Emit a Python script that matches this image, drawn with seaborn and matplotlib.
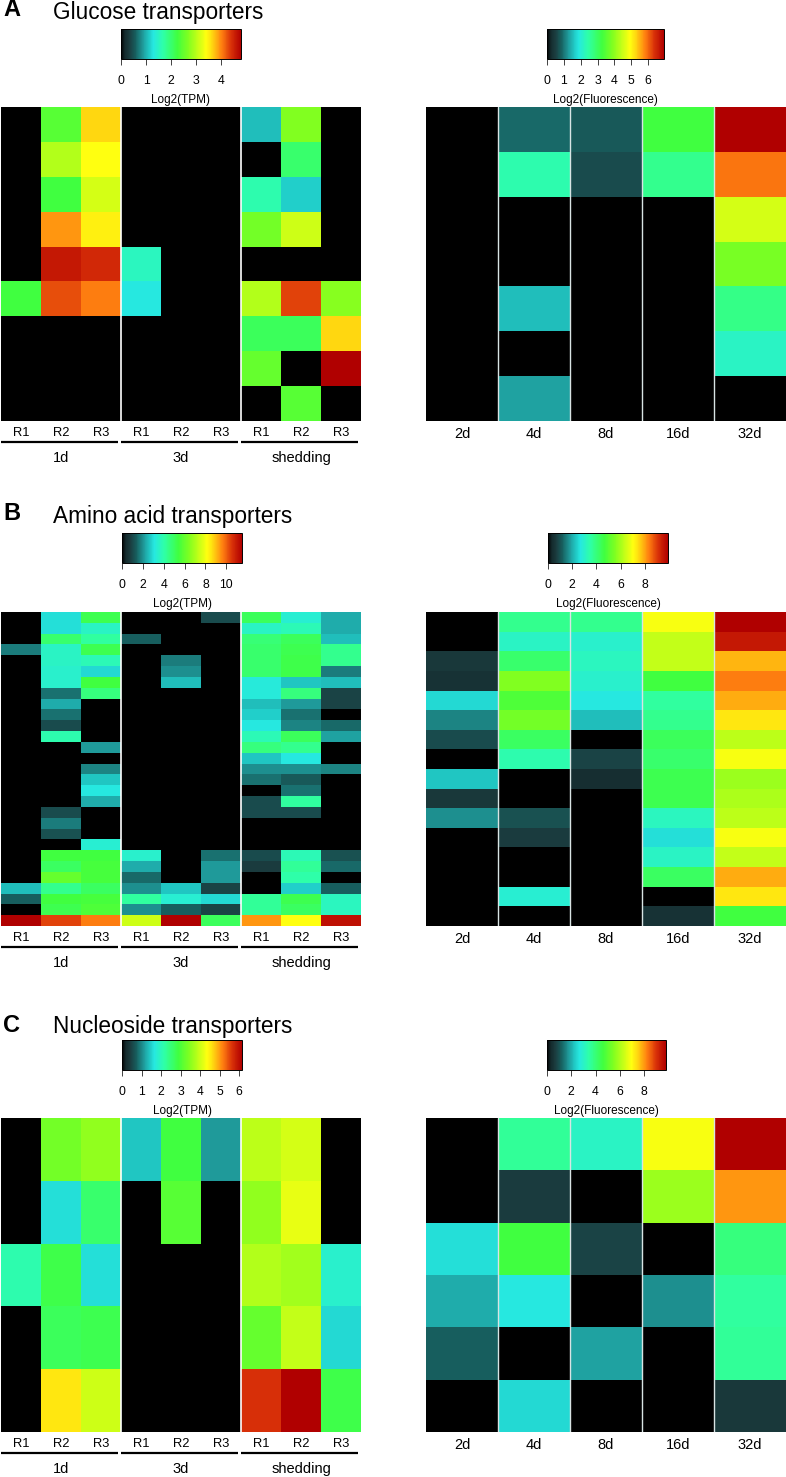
import numpy as np
import pandas as pd
import matplotlib
matplotlib.use("Agg")
import matplotlib.pyplot as plt
import seaborn as sns
from matplotlib.colors import LinearSegmentedColormap

W, H = 786, 1477

sns.set_style("white")
plt.rcParams['font.family'] = ['Liberation Sans', 'DejaVu Sans']
plt.rcParams['text.color'] = 'black'
plt.rcParams['xtick.color'] = 'black'
plt.rcParams['xtick.labelcolor'] = 'black'

# values are read as a position on each colour key (percent of the key's range)
replicates = ["R1", "R2", "R3"] * 3
groups = ["1d", "3d", "shedding"]
days = ["2d", "4d", "8d", "16d", "32d"]

# Glucose transporters
glucose_tpm = [
    [0, 50, 76, 0, 0, 0, 22, 56, 0],
    [0, 62, 71, 0, 0, 0, 0, 42, 0],
    [0, 47, 66, 0, 0, 0, 34, 24, 0],
    [0, 82, 73, 0, 0, 0, 54, 65, 0],
    [0, 96, 93, 32, 0, 0, 0, 0, 0],
    [47, 89, 84, 27, 0, 0, 62, 90, 57],
    [0, 0, 0, 0, 0, 0, 44, 44, 76],
    [0, 0, 0, 0, 0, 0, 52, 0, 100],
    [0, 0, 0, 0, 0, 0, 0, 50, 0],
]
glucose_fluo = [
    [0, 13, 11, 47, 100],
    [0, 34, 9, 38, 85],
    [0, 0, 0, 0, 66],
    [0, 0, 0, 0, 55],
    [0, 22, 0, 0, 39],
    [0, 0, 0, 0, 31],
    [0, 19, 0, 0, 0],
]

# Amino acid transporters, one list per column
amino_tpm_cols = [
    [0, 0, 0, 15, 0, 0, 0, 0, 0, 0, 0, 0, 0, 0, 0, 0, 0, 0, 0, 0, 0, 0, 0, 0, 0, 22, 12, 0, 100],
    [26, 26, 42, 31, 31, 30, 30, 14, 20, 14, 9, 34, 0, 0, 0, 0, 0, 0, 9, 15, 10, 0, 47, 43, 52, 38, 47, 45, 90],
    [45, 31, 36, 45, 33, 25, 47, 40, 0, 0, 0, 0, 18, 0, 16, 23, 27, 20, 0, 0, 0, 29, 47, 48, 48, 43, 48, 49, 84],
    [0, 0, 12, 0, 0, 0, 0, 0, 0, 0, 0, 0, 0, 0, 0, 0, 0, 0, 0, 0, 0, 0, 30, 20, 13, 17, 36, 17, 65],
    [0, 0, 0, 0, 15, 17, 22, 0, 0, 0, 0, 0, 0, 0, 0, 0, 0, 0, 0, 0, 0, 0, 0, 0, 0, 23, 29, 12, 100],
    [9, 0, 0, 0, 0, 0, 0, 0, 0, 0, 0, 0, 0, 0, 0, 0, 0, 0, 0, 0, 0, 0, 14, 18, 18, 8, 25, 8, 44],
    [44, 31, 41, 42, 42, 42, 28, 28, 22, 24, 27, 33, 40, 23, 17, 14, 0, 9, 9, 0, 0, 0, 9, 7, 0, 0, 37, 37, 82],
    [29, 33, 44, 45, 46, 46, 23, 40, 18, 14, 16, 44, 38, 27, 17, 11, 14, 36, 9, 0, 0, 0, 33, 37, 35, 24, 45, 43, 71],
    [20, 20, 22, 38, 38, 15, 22, 8, 8, 0, 13, 19, 0, 0, 16, 0, 0, 0, 0, 0, 0, 0, 10, 13, 0, 12, 32, 32, 97],
]
amino_fluo_cols = [
    [0, 0, 6, 5, 25, 16, 9, 0, 23, 6, 17, 0, 0, 0, 0, 0],
    [38, 31, 42, 56, 49, 54, 43, 34, 0, 0, 10, 7, 0, 0, 29, 0],
    [38, 30, 32, 30, 27, 22, 0, 8, 4, 0, 0, 0, 0, 0, 0, 0],
    [70, 64, 64, 47, 36, 38, 44, 42, 45, 45, 32, 26, 31, 43, 0, 5],
    [100, 96, 79, 84, 80, 74, 63, 70, 59, 61, 63, 70, 64, 80, 74, 47],
]

# Nucleoside transporters, one list per column
nucleoside_tpm_cols = [
    [0, 0, 34, 0, 0],
    [54, 26, 46, 44, 74],
    [58, 42, 26, 45, 65],
    [23, 0, 0, 0, 0],
    [47, 50, 0, 0, 0],
    [18, 0, 0, 0, 0],
    [63, 58, 62, 52, 92],
    [66, 68, 60, 64, 100],
    [0, 0, 30, 25, 46],
]
nucleoside_fluo_cols = [
    [0, 0, 26, 20, 12, 0],
    [37, 7, 47, 27, 0, 25],
    [31, 0, 8, 0, 19, 0],
    [70, 59, 0, 17, 0, 0],
    [100, 82, 40, 36, 37, 6],
]

# colour key maxima and ticks
key_max = {"A": (4.8, 6.95), "B": (11.5, 9.9), "C": (6.15, 9.8)}
key_ticks = {
    "A": ([0, 1, 2, 3, 4], [0, 1, 2, 3, 4, 5, 6]),
    "B": ([0, 2, 4, 6, 8, 10], [0, 2, 4, 6, 8]),
    "C": ([0, 1, 2, 3, 4, 5, 6], [0, 2, 4, 6, 8]),
}

cmap = LinearSegmentedColormap.from_list("key", [
    (0.00, "#000000"), (0.03, "#142a2c"), (0.07, "#1b3d40"), (0.12, "#17605f"),
    (0.18, "#1f9a9a"), (0.23, "#20c8c4"), (0.27, "#26e8e0"), (0.35, "#2effa8"),
    (0.47, "#40ff40"), (0.56, "#80ff20"), (0.71, "#ffff10"), (0.76, "#ffd810"),
    (0.84, "#ff8010"), (0.92, "#d83008"), (1.00, "#b00000"),
])


def px_axes(fig, x0, y0, x1, y1):
    return fig.add_axes([x0 / W, 1 - y1 / H, (x1 - x0) / W, (y1 - y0) / H])


def draw_map(fig, levels, box, cbox, vmax, ticks, label, xlabels):
    df = pd.DataFrame(np.array(levels) / 100 * vmax)
    ax = px_axes(fig, *box)
    cax = px_axes(fig, *cbox)
    sns.heatmap(df, ax=ax, cbar_ax=cax, cmap=cmap, vmin=0, vmax=vmax,
                xticklabels=xlabels, yticklabels=False,
                cbar_kws={"orientation": "horizontal", "ticks": ticks})
    ax.tick_params(axis="x", length=0, pad=4, labelsize=9.3 if len(xlabels) == 9 else 10.5,
                   rotation=0)
    # colour key
    cb = ax.collections[0].colorbar
    cb.outline.set_edgecolor("black")
    cb.outline.set_linewidth(0.7)
    cax.tick_params(axis="x", length=4.5, width=0.6, pad=7, labelsize=8.8, color="#222222")
    cax.text(0.5, -1.36, label, transform=cax.transAxes, ha="center", va="center", fontsize=8.5)
    return ax


fig = plt.figure(figsize=(W / 100, H / 100), dpi=100)

panels = [
    ("A", "Glucose transporters", 107, 12, 29, glucose_tpm, glucose_fluo,
     (121, 241), (547, 664)),
    ("B", "Amino acid transporters", 612, 516, 533, np.array(amino_tpm_cols).T, np.array(amino_fluo_cols).T,
     (122, 242), (548, 668)),
    ("C", "Nucleoside transporters", 1118, 1027, 1040, np.array(nucleoside_tpm_cols).T, np.array(nucleoside_fluo_cols).T,
     (122, 242), (547, 666)),
]

for letter, title, top, title_y, key_y, tpm, fluo, key_l, key_r in panels:
    fig.text(3 / W, 1 - (title_y - 2) / H, letter, fontsize=17, fontweight="bold", va="center")
    fig.text(53 / W, 1 - title_y / H, title, fontsize=16.3, va="center")
    vmax_l, vmax_r = key_max[letter]
    ticks_l, ticks_r = key_ticks[letter]

    ax = draw_map(fig, tpm, (1, top, 361, top + 314), (key_l[0], key_y, key_l[1], key_y + 30),
                  vmax_l, ticks_l, "Log2(TPM)", replicates)
    for x in (3, 6):
        ax.axvline(x, color="white", lw=1.2)
    # group bars and labels under the replicates
    trans = ax.get_xaxis_transform()
    for i, name in enumerate(groups):
        ax.plot([3 * i + 0.0, 3 * i + 2.92], [-21 / 314, -21 / 314], color="black", lw=1.6,
                transform=trans, clip_on=False, solid_capstyle="butt")
        ax.text(3 * i + 1.5, -37 / 314, name, transform=trans, ha="center", va="center", fontsize=10.5)

    ax = draw_map(fig, fluo, (426, top, 786, top + 314), (key_r[0], key_y, key_r[1], key_y + 30),
                  vmax_r, ticks_r, "Log2(Fluorescence)", days)
    for x in range(1, 5):
        ax.axvline(x, color="#d8e4e4", lw=1.0)

fig.savefig("out.png", dpi=100)
